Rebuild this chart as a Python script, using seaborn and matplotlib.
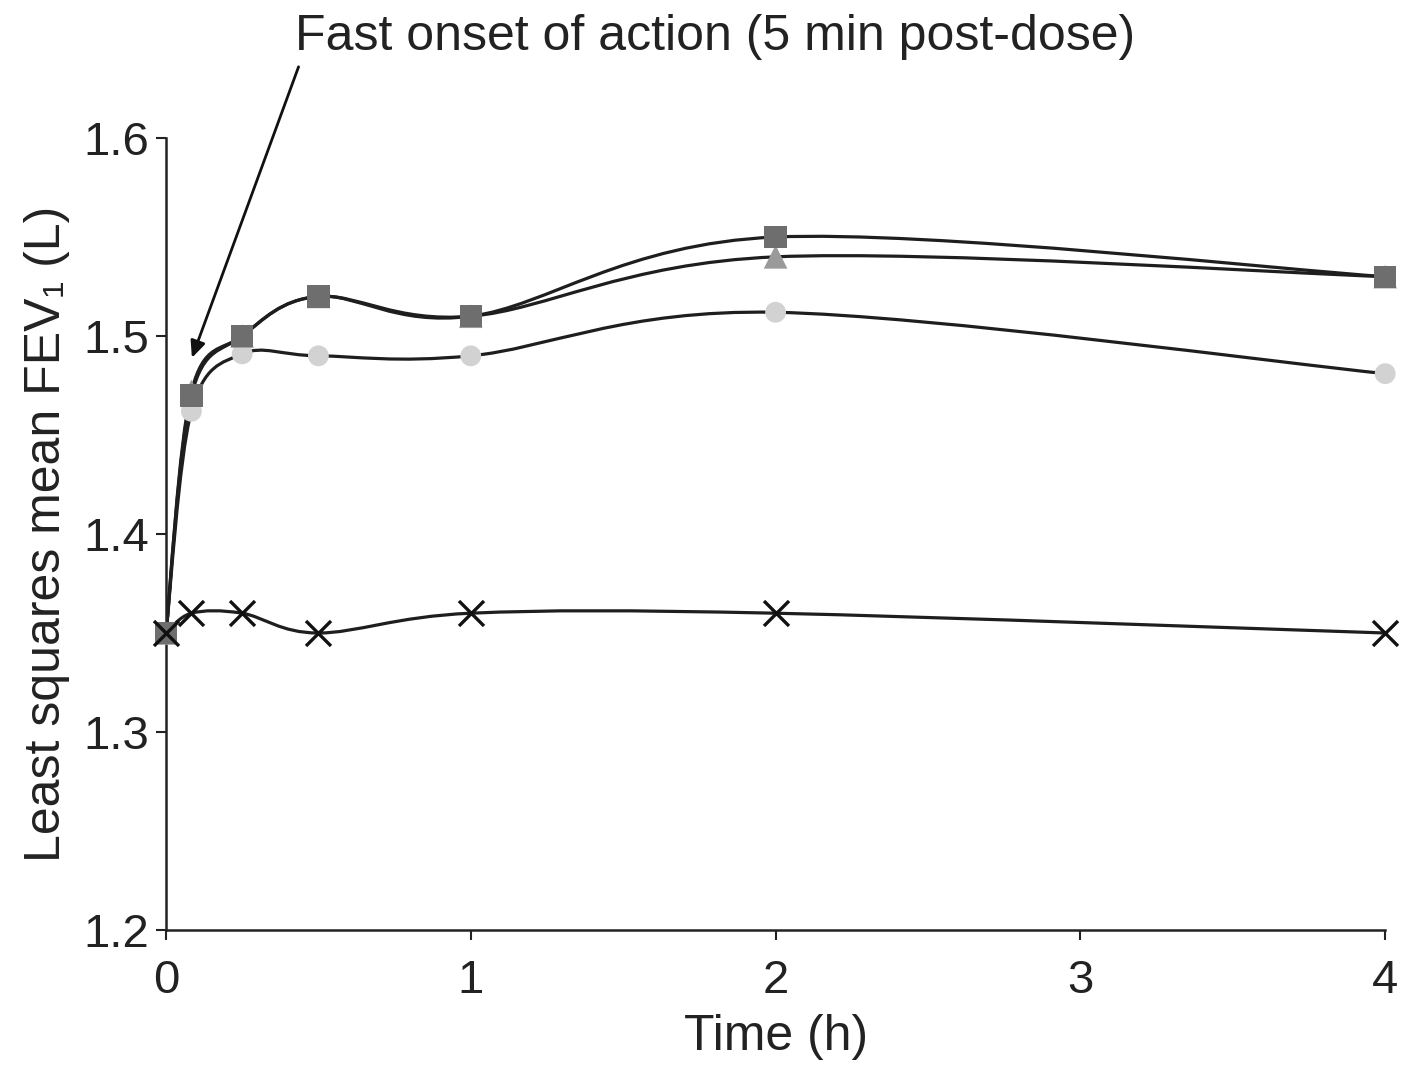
import matplotlib
matplotlib.use("Agg")
import matplotlib.pyplot as plt
import numpy as np
import pandas as pd
import seaborn as sns
from matplotlib.path import Path
from matplotlib.patches import PathPatch

# hours post-dose (0, 5 min, 15 min, 30 min, 1 h, 2 h, 4 h)
time_h = [0, 5 / 60, 0.25, 0.5, 1, 2, 4]
fev_square = [1.35, 1.47, 1.50, 1.52, 1.51, 1.55, 1.53]
fev_triangle = [1.35, 1.472, 1.50, 1.52, 1.51, 1.54, 1.53]
fev_circle = [1.35, 1.462, 1.491, 1.49, 1.49, 1.512, 1.481]
fev_cross = [1.35, 1.36, 1.36, 1.35, 1.36, 1.36, 1.35]

series = {
    "circle": (fev_circle, "o", "#d2d2d2", 15),
    "triangle": (fev_triangle, "^", "#9a9a9a", 17),
    "square": (fev_square, "s", "#6e6e6e", 16),
    "cross": (fev_cross, "x", "#111111", 18),
}

sns.set_style("ticks")
plt.rcParams["font.family"] = ["Liberation Sans", "DejaVu Sans"]


def smooth_path(x, y):
    # Catmull-Rom through the points, drawn as cubic beziers (Excel-style smoothing)
    p = np.column_stack([x, y])
    ext = np.vstack([p[0], p, p[-1]])
    verts = [p[0]]
    codes = [Path.MOVETO]
    for i in range(1, len(ext) - 2):
        p0, p1, p2, p3 = ext[i - 1], ext[i], ext[i + 1], ext[i + 2]
        verts += [p1 + (p2 - p0) / 6, p2 - (p3 - p1) / 6, p2]
        codes += [Path.CURVE4] * 3
    return Path(verts, codes)


fig = plt.figure(figsize=(14.02, 10.76), dpi=100)
ax = fig.add_axes([0.1184, 0.1357, 0.8696, 0.736])

for name, (vals, mk, col, ms) in series.items():
    ax.add_patch(PathPatch(smooth_path(time_h, vals), facecolor="none",
                           edgecolor="#1e1e1e", lw=2.3, zorder=2))

for name, (vals, mk, col, ms) in series.items():
    df = pd.DataFrame({"t": time_h, "fev": vals})
    if mk == "x":
        sns.scatterplot(data=df, x="t", y="fev", marker="x", s=ms ** 2,
                        color=col, linewidth=2.4, ax=ax, zorder=3, clip_on=False)
    else:
        sns.scatterplot(data=df, x="t", y="fev", marker=mk, s=ms ** 2,
                        color=col, edgecolor="none", ax=ax, zorder=3, clip_on=False)

ax.set_xlim(0, 4)
ax.set_ylim(1.2, 1.6)
ax.set_xticks([0, 1, 2, 3, 4])
ax.set_yticks([1.2, 1.3, 1.4, 1.5, 1.6])
ax.set_yticklabels(["1.2", "1.3", "1.4", "1.5", "1.6"])
sns.despine(ax=ax)
for s in ["left", "bottom"]:
    ax.spines[s].set_linewidth(1.8)
    ax.spines[s].set_color("#222222")
ax.tick_params(axis="y", length=7, width=1.5, pad=5, labelsize=34, colors="#222222")
ax.tick_params(axis="x", length=7, width=1.5, pad=14, labelsize=34, colors="#222222")

ax.set_xlabel("Time (h)", fontsize=36, color="#222222", labelpad=8)
ax.set_ylabel("Least squares mean FEV\u2081 (L)", fontsize=36, color="#222222", labelpad=10)

ax.text(0.423, 1.651, "Fast onset of action (5 min post-dose)", fontsize=36,
        color="#222222", ha="left", va="center", clip_on=False)
ax.annotate("", xy=(0.085, 1.489), xytext=(0.435, 1.636),
            arrowprops=dict(arrowstyle="-|>,head_length=1.0,head_width=0.45",
                            color="#111111", lw=2.0, shrinkA=0, shrinkB=0),
            annotation_clip=False)

fig.savefig("out.png", dpi=100)
